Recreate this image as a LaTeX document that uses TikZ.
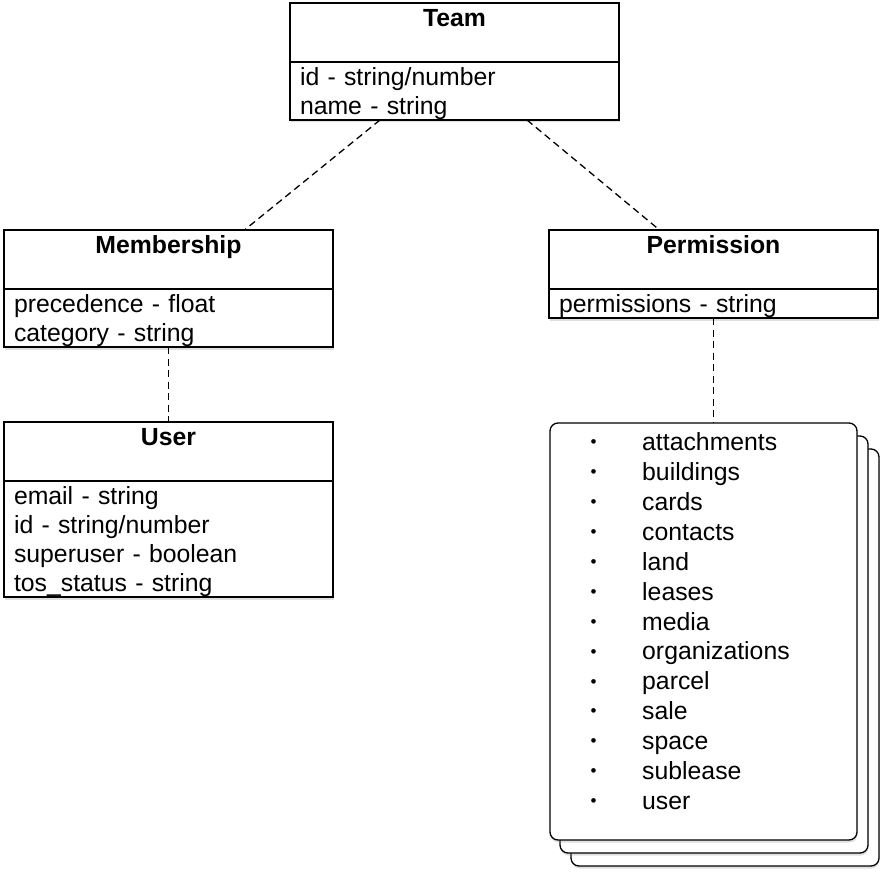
\documentclass[tikz,border=0pt]{standalone}
\usepackage{fontspec}
\setmainfont{Liberation Sans}
\usetikzlibrary{shadows}

\newcommand{\listdot}{\makebox[53pt][l]{\hspace{1.5pt}\raisebox{2.8pt}{\fontsize{17}{17}\selectfont\textbullet}}}

\tikzset{
  boxline/.style={draw, line width=1.5pt, fill=white, outer sep=0pt,
    drop shadow={shadow xshift=0.5pt, shadow yshift=-2.5pt, opacity=0.25}},
  classhead/.style={boxline, minimum width=329pt, inner ysep=0pt,
    text height=23.7pt, text depth=35.3pt, anchor=north,
    font=\bfseries\fontsize{24.8}{29}\selectfont},
  classbody/.style={boxline, text width=309pt, inner xsep=10pt, inner ysep=0pt,
    align=left, anchor=north, font=\fontsize{24.8}{29}\selectfont,
    execute at begin node=\rule{0pt}{22.5pt}},
  card/.style={boxline, line width=1.3pt, rounded corners=8pt, anchor=north west,
    inner sep=0pt, minimum height=417pt},
  link/.style={line width=1.3pt, dash pattern=on 7pt off 4.5pt},
}

\begin{document}
\begin{tikzpicture}[x=1pt,y=-1pt]
\useasboundingbox (0,0) rectangle (883,872);

% classes
\node[classhead] (team) at (454.5,3) {Team};
\node[classbody, minimum height=58pt] (teamattr) at (team.south)
  {id - string/number\\name - string};

\node[classhead] (member) at (168.5,230) {Membership};
\node[classbody, minimum height=58pt] (memberattr) at (member.south)
  {precedence - float\\category - string};

\node[classhead] (user) at (168.5,422) {User};
\node[classbody, minimum height=116pt] (userattr) at (user.south)
  {email - string\\id - string/number\\superuser - boolean\\tos\_status - string};

\node[classhead] (perm) at (713.5,230) {Permission};
\node[classbody, minimum height=29pt] (permattr) at (perm.south)
  {permissions - string};

% stack of permission values
\node[card, minimum width=308pt] (card3) at (571,449) {};
\node[card, minimum width=308pt] (card2) at (560,436) {};
\node[card, minimum width=307pt] (card1) at (550,423) {};

\node[anchor=north west, inner sep=0pt, align=left,
  font=\fontsize{24.8}{29.9}\selectfont] (permlist) at (589,432.5) {%
  \listdot attachments\\
  \listdot buildings\\
  \listdot cards\\
  \listdot contacts\\
  \listdot land\\
  \listdot leases\\
  \listdot media\\
  \listdot organizations\\
  \listdot parcel\\
  \listdot sale\\
  \listdot space\\
  \listdot sublease\\
  \listdot user};

% associations
\draw[link] ([xshift=-74.5pt]teamattr.south) -- ([xshift=76pt]member.north);
\draw[link] ([xshift=72.5pt]teamattr.south) -- ([xshift=-54pt]perm.north);
\draw[link] (memberattr.south) -- (user.north);
\draw[link] (permattr.south) -- (permattr.south |- card1.north);
\end{tikzpicture}
\end{document}
